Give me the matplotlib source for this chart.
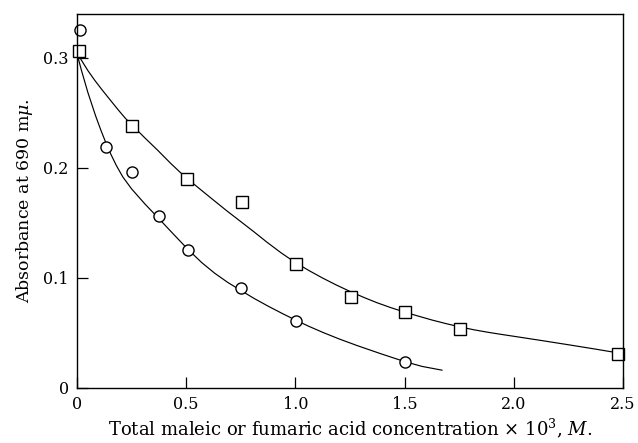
import matplotlib
matplotlib.use("Agg")
import matplotlib.pyplot as plt

plt.rcParams['font.family'] = ['DejaVu Serif']
plt.rcParams['mathtext.fontset'] = 'dejavuserif'

circ_x = [0.012, 0.133, 0.253, 0.377, 0.507, 0.751, 1.005, 1.502]
circ_y = [0.325, 0.219, 0.196, 0.156, 0.1255, 0.091, 0.061, 0.0236]

sq_x = [0.01, 0.253, 0.502, 0.755, 1.003, 1.255, 1.502, 1.754, 2.477]
sq_y = [0.306, 0.238, 0.190, 0.169, 0.113, 0.083, 0.069, 0.0536, 0.031]

# hand drawn curves
circ_curve_x = [0.0, 0.02, 0.05, 0.085, 0.11, 0.133, 0.155, 0.18, 0.21, 0.25, 0.31, 0.377, 0.44, 0.507,
                0.571, 0.63, 0.69, 0.751, 0.81, 0.875, 0.94, 1.0, 1.06, 1.126, 1.2, 1.282,
                1.39, 1.5, 1.58, 1.671]
circ_curve_y = [0.304, 0.289, 0.2685, 0.2475, 0.234, 0.2225, 0.2125, 0.2023, 0.1918, 0.181, 0.1675, 0.1535, 0.1402, 0.1262,
                0.114, 0.1044, 0.096, 0.0886, 0.0815, 0.0744, 0.0677, 0.0618, 0.0562, 0.0505, 0.0446, 0.0386,
                0.0312, 0.024, 0.0196, 0.0162]

sq_curve_x = [0.0, 0.014, 0.05, 0.082, 0.115, 0.142, 0.188, 0.22, 0.252, 0.31, 0.37, 0.43,
              0.47, 0.505, 0.565, 0.625, 0.685, 0.745, 0.81, 0.87, 0.935, 1.0, 1.0625,
              1.125, 1.1875, 1.25, 1.3125, 1.375, 1.4375, 1.5, 1.56, 1.625, 1.69, 1.754,
              1.82, 1.88, 1.94, 2.0, 2.125, 2.25, 2.375, 2.48]
sq_curve_y = [0.305, 0.300, 0.2885, 0.2795, 0.271, 0.2643, 0.253, 0.2455, 0.239, 0.2275, 0.216, 0.204,
              0.1965, 0.1903, 0.1805, 0.1708, 0.1612, 0.152, 0.142, 0.1325, 0.1228, 0.114, 0.1067,
              0.0999, 0.0936, 0.0878, 0.0824, 0.0774, 0.073, 0.069, 0.0655, 0.0618, 0.0585, 0.0555,
              0.0528, 0.0507, 0.0488, 0.047, 0.0432, 0.0393, 0.0353, 0.0318]

xticks = [0, 0.5, 1.0, 1.5, 2.0, 2.5]
xticklabels = ['0', '0.5', '1.0', '1.5', '2.0', '2.5']
yticks = [0, 0.1, 0.2, 0.3]
yticklabels = ['0', '0.1', '0.2', '0.3']

fig = plt.figure(figsize=(6.38, 4.43), dpi=100)
ax = fig.add_axes([0.1207, 0.1242, 0.8558, 0.8442])

ax.plot(circ_curve_x, circ_curve_y, color='black', lw=0.85)
ax.plot(sq_curve_x, sq_curve_y, color='black', lw=0.85)
ax.plot(circ_x, circ_y, 'o', ms=8, mfc='white', mec='black', mew=1.0, clip_on=False)
ax.plot(sq_x, sq_y, 's', ms=8, mfc='white', mec='black', mew=1.0, clip_on=False)

ax.set_xlim(0, 2.5)
ax.set_ylim(0, 0.34)
ax.set_xticks(xticks)
ax.set_xticklabels(xticklabels)
ax.set_yticks(yticks)
ax.set_yticklabels(yticklabels)
ax.tick_params(direction='in', length=8, width=0.9, labelsize=11.5, pad=6)
for s in ax.spines.values():
    s.set_linewidth(1.0)

ax.set_xlabel(r'Total maleic or fumaric acid concentration $\times$ 10$^3$, $M$.', fontsize=13, labelpad=2)
ax.set_ylabel('Absorbance at 690 m$\\mu$.', fontsize=12.5, labelpad=6)

fig.savefig('out.png', dpi=100)
